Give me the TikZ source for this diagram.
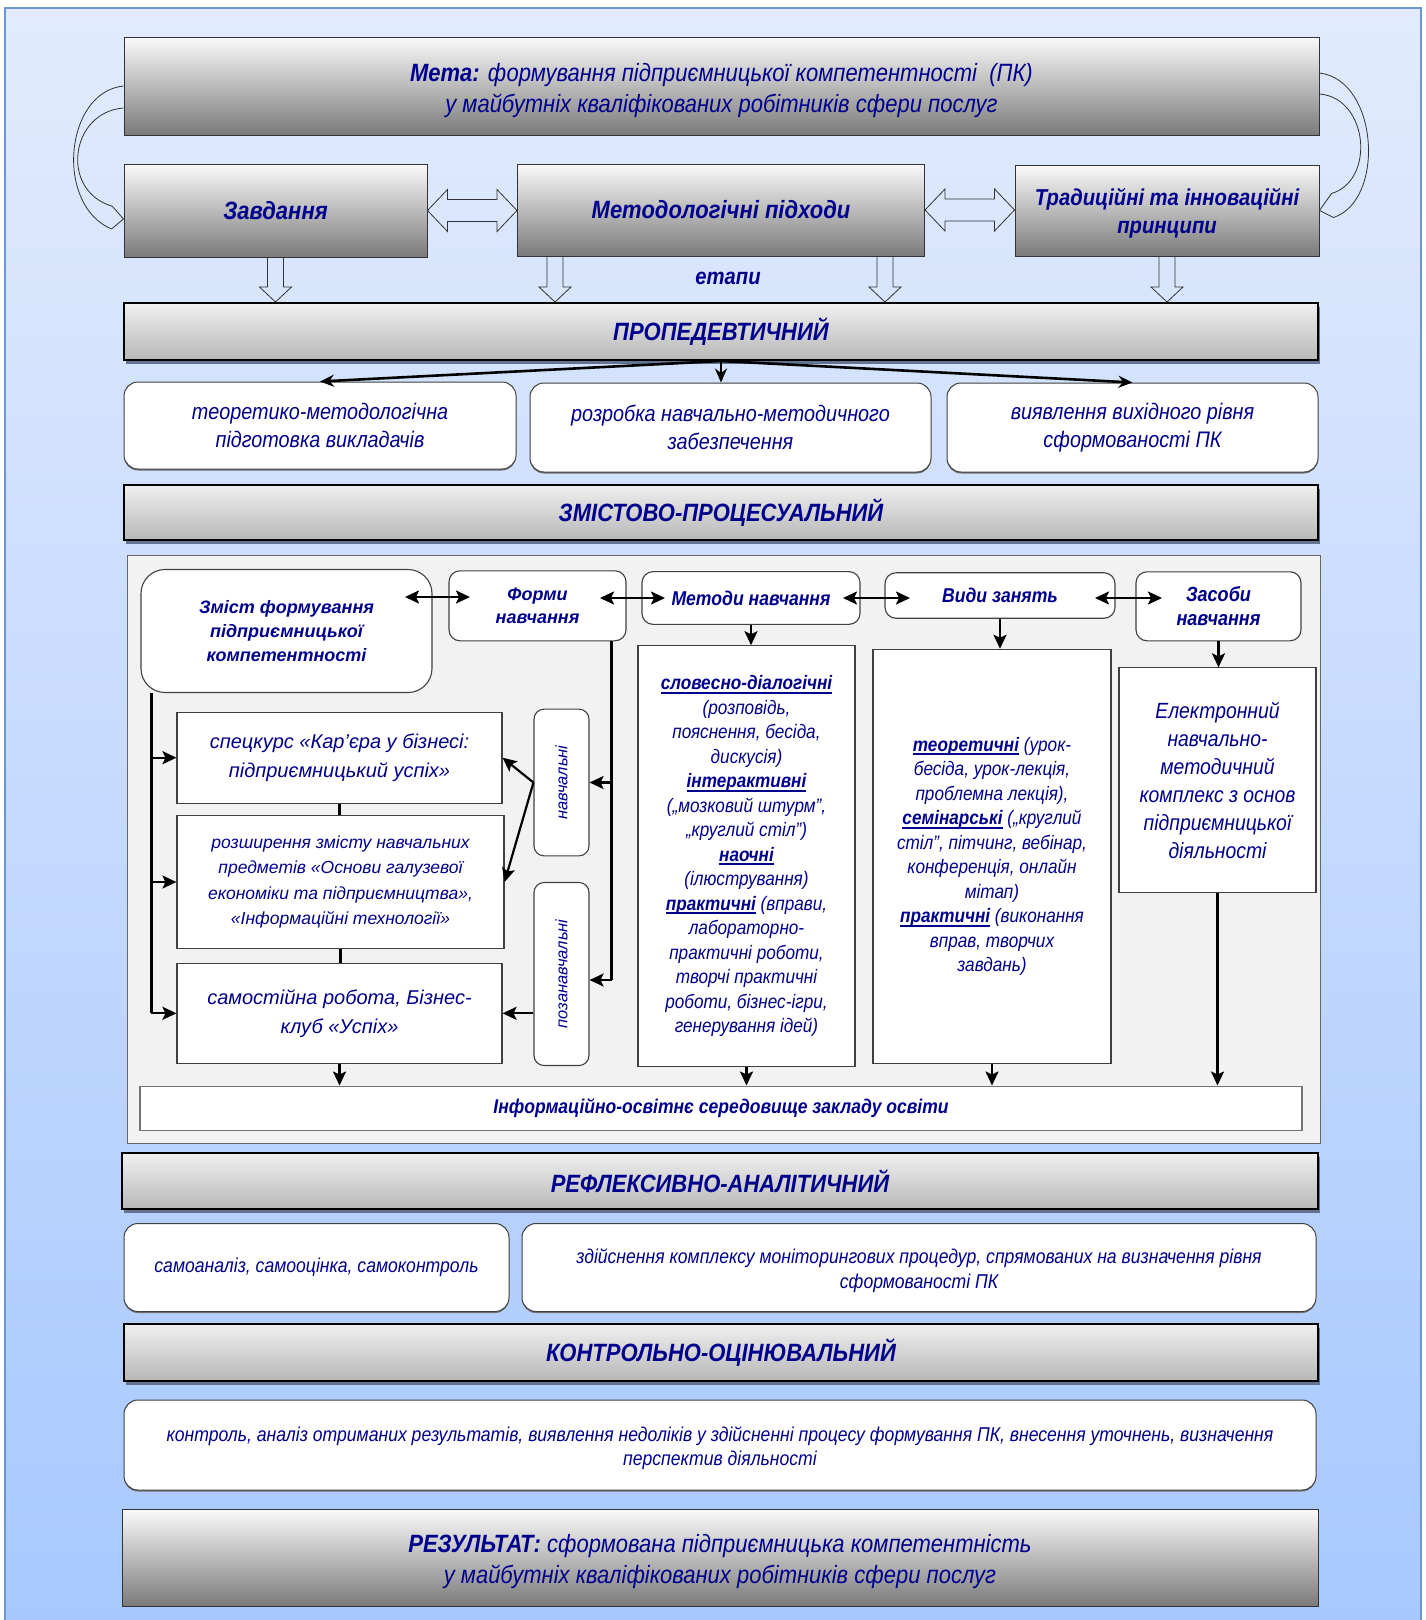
\documentclass[tikz,border=0pt]{standalone}
\usepackage{fontspec}
\setmainfont{Liberation Sans}
\newfontfamily\nar{Liberation Sans}[FakeStretch=0.88]
\usetikzlibrary{arrows.meta,calc,shadows}
\definecolor{tc}{RGB}{0,0,140}
\definecolor{bgtop}{RGB}{225,235,253}
\definecolor{bgbot}{RGB}{168,200,255}
\definecolor{framec}{RGB}{110,150,210}
\definecolor{shc}{RGB}{100,115,145}
\newcommand\ulw[1]{\leavevmode\setbox0\hbox{#1}\rlap{\vrule width\wd0 height -2.2pt depth 4pt}\box0\relax}
\newcommand\fs[2]{\fontsize{#1}{#2}\selectfont}
\tikzset{
  topbox/.style={draw=black!80, line width=1pt, top color=black!2, bottom color=black!52, text=tc, align=center, inner sep=0pt},
  hdr/.style={draw=black, line width=2pt, top color=black!6, bottom color=black!28, general shadow={fill=shc, shadow xshift=1.5pt, shadow yshift=-4pt}, text=tc, inner sep=0pt, font=\nar\bfseries\itshape\fs{25}{29}},
  wbox/.style={draw=black!75, line width=1pt, fill=white, rounded corners=14pt, align=center, text=tc, inner sep=2pt, general shadow={fill=black!55, shadow yshift=-1.5pt}},
  pbox/.style={draw=black!75, line width=1.1pt, fill=white, align=center, text=tc, inner sep=2pt},
  rbox/.style={pbox, rounded corners=11pt},
  harrow/.style={draw=black!80, line width=0.8pt, line join=miter},
  blk/.style={draw=black, line width=2.6pt, -{Stealth[length=14pt,width=12pt]}},
  ln/.style={draw=black, line width=2.2pt},
  arr/.style={ln, -{Stealth[length=14pt,width=13pt,inset=3pt]}},
  darr/.style={ln, {Stealth[length=14pt,width=13pt,inset=3pt]}-{Stealth[length=14pt,width=13pt,inset=3pt]}}
}
\begin{document}
\begin{tikzpicture}[x=1pt,y=-1pt]
\useasboundingbox (0,0) rectangle (1425,1620);
\shade[top color=bgtop, bottom color=bgbot] (5,8) rectangle (1421,1625);
\draw[framec, line width=2pt] (5,1625) -- (5,8) -- (1421,8) -- (1421,1625);

% top block
\node[topbox, font=\nar\itshape\fs{25}{31}, minimum width=1195pt, minimum height=98pt] (mega) at (721.5,86)
  {\rule{0pt}{27pt}\textbf{Мета:} формування підприємницької компетентності~ (ПК)\\у майбутніх кваліфікованих робітників сфери послуг};
\node[topbox, font=\nar\bfseries\itshape\fs{25}{30}, minimum width=303pt, minimum height=93pt] (zav) at (275.5,210.5) {Завдання};
\node[topbox, font=\nar\bfseries\itshape\fs{25}{30}, minimum width=407pt, minimum height=92pt] (met) at (721,210) {Методологічні підходи};
\node[topbox, font=\nar\bfseries\itshape\fs{23}{28}, minimum width=304pt, minimum height=91pt] (trad) at (1167,210.5) {\rule{0pt}{23pt}Традиційні та інноваційні\\принципи};
\node[text=tc, font=\nar\bfseries\itshape\fs{23}{28}] (etapi) at (728,278) {етапи};

% hollow double arrows
\draw[harrow] let \p1=(zav.east), \p2=(met.west) in
  (\x1,\y1) -- (\x1+20pt,\y1+21pt) -- (\x1+20pt,\y1+11pt) -- (\x2-20pt,\y1+11pt) -- (\x2-20pt,\y1+21pt) -- (\x2,\y1)
  -- (\x2-20pt,\y1-21pt) -- (\x2-20pt,\y1-11pt) -- (\x1+20pt,\y1-11pt) -- (\x1+20pt,\y1-21pt) -- cycle;
\draw[harrow] let \p1=(met.east), \p2=(trad.west) in
  (\x1,\y1) -- (\x1+20pt,\y1+21pt) -- (\x1+20pt,\y1+11pt) -- (\x2-20pt,\y1+11pt) -- (\x2-20pt,\y1+21pt) -- (\x2,\y1)
  -- (\x2-20pt,\y1-21pt) -- (\x2-20pt,\y1-11pt) -- (\x1+20pt,\y1-11pt) -- (\x1+20pt,\y1-21pt) -- cycle;

% curved hollow arrows
\draw[harrow] (mega.west) .. controls +(-59,6) and +(-57,-24) .. ($(zav.west)+(-12,18.5)$)
  -- ($(zav.west)+(0,8.5)$) -- ($(zav.west)+(-10.5,-3.5)$) -- ($(zav.west)+(-12,-4.5)$)
  .. controls +(-52,-16) and +(-53,4) .. ($(mega.west)+(0,22)$);
\draw[harrow] ($(mega.east)+(0,-13)$) .. controls +(59,7) and +(52,-17) .. ($(trad.east)+(14,7)$)
  -- (trad.east) -- ($(trad.east)+(12,-17)$)
  .. controls +(44,-13) and +(49,4) .. ($(mega.east)+(0,8)$);

% stage 1
\node[hdr, minimum width=1194pt, minimum height=57pt] (prop) at (721,331.5) {ПРОПЕДЕВТИЧНИЙ};

% hollow down arrows
\foreach \src/\dx in {zav/0, met/-166, met/164, trad/0}{
  \draw[harrow] let \p1=($(\src.south)+(\dx,0)$), \p2=(prop.north) in
    (\x1-8pt,\y1) -- (\x1-8pt,\y2+15pt) -- (\x1-16pt,\y2+15pt) -- (\x1,\y2) -- (\x1+16pt,\y2+15pt) -- (\x1+8pt,\y2+15pt) -- (\x1+8pt,\y1);
}

\node[wbox, font=\nar\itshape\fs{22.5}{28}, minimum width=392pt, minimum height=87pt] (p1) at (320,425.5) {теоретико-методологічна\\підготовка викладачів};
\node[wbox, font=\nar\itshape\fs{22.5}{28}, minimum width=401pt, minimum height=89pt] (p2) at (730.5,427.5) {розробка навчально-методичного\\забезпечення};
\node[wbox, font=\nar\itshape\fs{22.5}{28}, minimum width=371pt, minimum height=89pt] (p3) at (1132.5,427.5) {виявлення вихідного рівня\\сформованості ПК};
\draw[blk] (prop.south) -- (p1.north);
\draw[blk] (prop.south) -- (prop.south |- p2.north);
\draw[blk] (prop.south) -- (p3.north);

% stage 2
\node[hdr, minimum width=1194pt, minimum height=55pt] (zmh) at (721,512.5) {ЗМІСТОВО-ПРОЦЕСУАЛЬНИЙ};
\node[draw=black!60, fill=black!5, line width=1pt, minimum width=1193pt, minimum height=588pt, inner sep=0pt] (panel) at (723.5,849) {};

\node[rbox, rounded corners=24pt, font=\bfseries\itshape\fs{18}{24.3}, minimum width=291pt, minimum height=123pt] (zm) at (286.5,631) {Зміст формування\\підприємницької\\компетентності};
\node[rbox, font=\bfseries\itshape\fs{18}{23.8}, minimum width=177pt, minimum height=70pt] (formy) at (537.5,605.8) {Форми\\навчання};
\node[rbox, font=\nar\bfseries\itshape\fs{20}{24}, minimum width=218pt, minimum height=52.7pt] (metody) at (751,598) {Методи навчання};
\node[rbox, font=\nar\bfseries\itshape\fs{20}{24}, minimum width=230pt, minimum height=45.5pt] (vydy) at (1000,595.5) {Види занять};
\node[rbox, font=\nar\bfseries\itshape\fs{20.5}{24}, minimum width=165pt, minimum height=69pt] (zasoby) at (1218.5,606.3) {Засоби\\навчання};

\node[pbox, font=\itshape\fs{20}{28.9}, minimum width=325pt, minimum height=91pt] (spec) at (339.5,757.7) {спецкурс «Кар’єра у бізнесі:\\підприємницький успіх»};
\node[pbox, font=\itshape\fs{17.5}{25.1}, minimum width=327pt, minimum height=133pt] (rozsh) at (340.5,882) {розширення змісту навчальних\\предметів «Основи галузевої\\економіки та підприємництва»,\\«Інформаційні технології»};
\node[pbox, font=\itshape\fs{20}{29.2}, minimum width=325pt, minimum height=100pt] (samost) at (339.5,1013.3) {самостійна робота, Бізнес-\\клуб «Успіх»};

\node[rbox, rounded corners=10pt, minimum width=55pt, minimum height=146.7pt,
  label={[rotate=90, text=tc, font=\itshape\fs{16.5}{19}]center:навчальні}] (navch) at (561.5,782.5) {};
\node[rbox, rounded corners=10pt, minimum width=55pt, minimum height=183pt,
  label={[rotate=90, text=tc, font=\itshape\fs{16.5}{19}]center:позанавчальні}] (pozan) at (561.5,974) {};

\node[pbox, font=\nar\itshape\fs{19.5}{24.5}, minimum width=217pt, minimum height=420.5pt] (mc) at (746.5,856)
  {\ulw{\textbf{словесно-діалогічні}}\\(розповідь,\\пояснення, бесіда,\\дискусія)\\\ulw{\textbf{інтерактивні}}\\(„мозковий штурм”,\\„круглий стіл”)\\\ulw{\textbf{наочні}}\\(ілюстрування)\\\ulw{\textbf{практичні}} (вправи,\\лабораторно-\\практичні роботи,\\творчі практичні\\роботи, бізнес-ігри,\\генерування ідей)};
\node[pbox, font=\nar\itshape\fs{19.5}{24.5}, minimum width=238pt, minimum height=414pt] (vc) at (992,856.3)
  {\ulw{\textbf{теоретичні}} (урок-\\бесіда, урок-лекція,\\проблемна лекція),\\\ulw{\textbf{семінарські}} („круглий\\стіл”, пітчинг, вебінар,\\конференція, онлайн\\мітап)\\\ulw{\textbf{практичні}} (виконання\\вправ, творчих\\завдань)};
\node[pbox, font=\nar\itshape\fs{22}{27.9}, minimum width=197pt, minimum height=225pt] (zc) at (1217.5,780.4)
  {Електронний\\навчально-\\методичний\\комплекс з основ\\підприємницької\\діяльності};

\node[pbox, draw=black!55, font=\nar\bfseries\itshape\fs{19.9}{23}, minimum width=1162pt, minimum height=44.5pt] (info) at (721,1108.3) {Інформаційно-освітнє середовище закладу освіти};

% panel connectors
\coordinate (c1) at (405,597); \coordinate (c2) at (470,597);
\coordinate (c3) at (600,598); \coordinate (c4) at (665,598);
\coordinate (c5) at (843,598); \coordinate (c6) at (910,598);
\coordinate (c7) at (1095,598); \coordinate (c8) at (1162,598);
\draw[darr] (c1) -- (c2);
\draw[darr] (c3) -- (c4);
\draw[darr] (c5) -- (c6);
\draw[darr] (c7) -- (c8);

\coordinate (zl) at ($(zm.south west)+(11,0)$);
\draw[ln] (zl) -- (zl |- samost.west);
\draw[arr] (zl |- spec.west) -- (spec.west);
\draw[arr] (zl |- rozsh.west) -- (rozsh.west);
\draw[arr] (zl |- samost.west) -- (samost.west);

\coordinate (fl) at ($(formy.south east)+(-15,0)$);
\coordinate (pz) at ($(pozan.east)+(0,6)$);
\draw[ln] (fl) -- (fl |- pz);
\draw[arr] (fl |- navch.east) -- (navch.east);
\draw[arr] (fl |- pz) -- (pz);
\draw[arr] (navch.west) -- (spec.east);
\draw[arr] (navch.west) -- (rozsh.east);
\draw[arr] (pozan.west |- samost.east) -- (samost.east);
\draw[ln] (spec.south) -- (spec.south |- rozsh.north);
\draw[ln] (rozsh.south) -- (rozsh.south |- samost.north);

\draw[arr] (metody.south) -- (metody.south |- mc.north);
\draw[arr] (vydy.south) -- (vydy.south |- vc.north);
\draw[arr] (zasoby.south) -- (zasoby.south |- zc.north);
\draw[arr] (samost.south) -- (samost.south |- info.north);
\draw[arr] (mc.south) -- (mc.south |- info.north);
\draw[arr] (vc.south) -- (vc.south |- info.north);
\draw[arr] (zc.south) -- (zc.south |- info.north);

% stage 3
\node[hdr, minimum width=1196pt, minimum height=56pt] (refl) at (720,1181.2) {РЕФЛЕКСИВНО-АНАЛІТИЧНИЙ};
\node[wbox, font=\nar\itshape\fs{20}{25}, minimum width=385pt, minimum height=88pt] (r1) at (316.5,1267.5) {самоаналіз, самооцінка, самоконтроль};
\node[wbox, font=\nar\itshape\fs{20}{25.5}, minimum width=794pt, minimum height=88pt] (r2) at (919,1267.5) {\rule{0pt}{21pt}здійснення комплексу моніторингових процедур, спрямованих на визначення рівня\\сформованості ПК};

% stage 4
\node[hdr, minimum width=1194pt, minimum height=57pt] (kontr) at (721,1352.2) {КОНТРОЛЬНО-ОЦІНЮВАЛЬНИЙ};
\node[wbox, font=\nar\itshape\fs{20}{24.5}, minimum width=1192pt, minimum height=90pt] (k1) at (720,1445) {\rule{0pt}{21pt}контроль, аналіз отриманих результатів, виявлення недоліків у здійсненні процесу формування ПК, внесення уточнень, визначення\\перспектив діяльності};

% result
\node[topbox, font=\nar\itshape\fs{25}{31.5}, minimum width=1196pt, minimum height=97pt] (res) at (720,1558)
  {\rule{0pt}{25pt}\textbf{РЕЗУЛЬТАТ:} сформована підприємницька компетентність\\у майбутніх кваліфікованих робітників сфери послуг};
\end{tikzpicture}
\end{document}
